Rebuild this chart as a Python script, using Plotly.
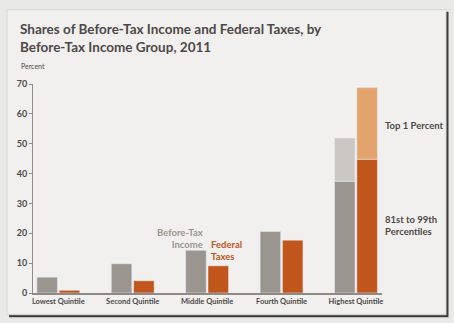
import plotly.graph_objects as go

categories = ["Lowest Quintile", "Second Quintile", "Middle Quintile", "Fourth Quintile", "Highest Quintile"]
income_share = [5.3, 9.8, 14.3, 20.6, 37.4]      # highest = 81st to 99th percentiles
income_top1 = [None, None, None, None, 14.5]
tax_share = [0.9, 4.1, 9.1, 17.7, 44.8]          # highest = 81st to 99th percentiles
tax_top1 = [None, None, None, None, 24.0]
y_ticks = [0, 10, 20, 30, 40, 50, 60, 70]

FONT = "Lato, Roboto, sans-serif"
TXT = "#4d4848"
GRAY = "#9b9590"
GRAY_L = "#cbc7c4"
ORANGE = "#c1561c"
ORANGE_L = "#e2a46c"

fig = go.Figure()
fig.add_trace(go.Bar(x=categories, y=income_share, marker=dict(color=GRAY), offsetgroup="inc"))
fig.add_trace(go.Bar(x=categories, y=income_top1, base=[0, 0, 0, 0, income_share[4]],
                     marker=dict(color=GRAY_L), offsetgroup="inc"))
fig.add_trace(go.Bar(x=categories, y=tax_share, marker=dict(color=ORANGE), offsetgroup="tax"))
fig.add_trace(go.Bar(x=categories, y=tax_top1, base=[0, 0, 0, 0, tax_share[4]],
                     marker=dict(color=ORANGE_L), offsetgroup="tax"))

W, H = 454, 323
L, R, T, B = 33, 382, 84.3, 293.3


def px_x(p):
    return (p - L) / (R - L)


def px_y(p):
    return (B - p) / (B - T)


shapes = [
    # frame shadow
    dict(type="rect", xref="paper", yref="paper", x0=px_x(9), x1=px_x(448.5),
         y0=px_y(317.5), y1=px_y(12), fillcolor="#3c3c3c", line=dict(width=0), layer="below"),
    # panel
    dict(type="rect", xref="paper", yref="paper", x0=px_x(7), x1=px_x(446),
         y0=px_y(315), y1=px_y(10), fillcolor="#f1f0ee",
         line=dict(color="#d6d6d6", width=1), layer="below"),
]

annotations = [
    dict(text="<b>Shares of Before-Tax Income and Federal Taxes, by<br>Before-Tax Income Group, 2011</b>",
         xref="paper", yref="paper", x=px_x(18), y=px_y(19), xanchor="left", yanchor="top",
         align="left", showarrow=False, font=dict(family=FONT, size=13.5, color=TXT)),
    dict(text="Percent", xref="paper", yref="paper", x=px_x(19), y=px_y(66), xanchor="left",
         yanchor="middle", showarrow=False, font=dict(family=FONT, size=7, color=TXT)),
    dict(text="<b>Before-Tax<br>Income</b>", xref="paper", yref="paper", x=px_x(205), y=px_y(239),
         xanchor="right", yanchor="middle", align="right", showarrow=False,
         font=dict(family=FONT, size=9.5, color=GRAY)),
    dict(text="<b>Federal<br>Taxes</b>", xref="paper", yref="paper", x=px_x(209), y=px_y(251),
         xanchor="left", yanchor="middle", align="left", showarrow=False,
         font=dict(family=FONT, size=9.5, color=ORANGE)),
    dict(text="<b>Top 1 Percent</b>", xref="paper", yref="paper", x=px_x(383), y=px_y(126),
         xanchor="left", yanchor="middle", align="left", showarrow=False,
         font=dict(family=FONT, size=9.5, color=TXT)),
    dict(text="<b>81st to 99th<br>Percentiles</b>", xref="paper", yref="paper", x=px_x(383), y=px_y(226),
         xanchor="left", yanchor="middle", align="left", showarrow=False,
         font=dict(family=FONT, size=9.5, color=TXT)),
]

fig.update_layout(
    width=W, height=H,
    margin=dict(l=L, r=W - R, t=T, b=H - B),
    paper_bgcolor="#e9e9e8",
    plot_bgcolor="rgba(0,0,0,0)",
    barmode="group",
    bargap=0.4,
    bargroupgap=0.08,
    showlegend=False,
    shapes=shapes,
    annotations=annotations,
    xaxis=dict(range=[-0.34, 4.35], showline=True, linecolor="#8f8a86", linewidth=1.5,
               ticks="", showgrid=False, zeroline=False,
               tickvals=categories, ticktext=["<b>%s</b>" % c for c in categories],
               tickfont=dict(family=FONT, size=7.5, color=TXT)),
    yaxis=dict(range=[0, 70], tickvals=y_ticks, ticktext=["<b>%d</b>" % v for v in y_ticks],
               showline=True, linecolor="#8f8a86", linewidth=1,
               ticks="outside", ticklen=3, tickcolor="#8f8a86", showgrid=False, zeroline=False,
               tickfont=dict(family=FONT, size=9, color=TXT)),
)

fig.write_html("out.html")
